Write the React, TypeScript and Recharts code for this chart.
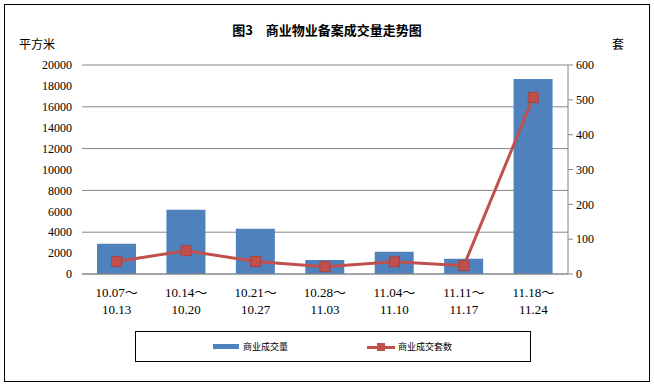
import { Bar, CartesianGrid, ComposedChart, Legend, Line, XAxis, YAxis } from "recharts"

const weekStart = ["10.07", "10.14", "10.21", "10.28", "11.04", "11.11", "11.18"]
const weekEnd = ["10.13", "10.20", "10.27", "11.03", "11.10", "11.17", "11.24"]
const areaSold = [2900, 6150, 4330, 1340, 2130, 1460, 18660]
const unitsSold = [36, 67, 36, 21, 35, 24, 507]
const leftTicks = [0, 2000, 4000, 6000, 8000, 10000, 12000, 14000, 16000, 18000, 20000]
const rightTicks = [0, 100, 200, 300, 400, 500, 600]

const data = weekStart.map((start, i) => ({
  week: `${start}～${weekEnd[i]}`,
  area: areaSold[i],
  units: unitsSold[i],
}))

const BLUE = "#4F81BD"
const RED = "#C0504D"
const GRID = "#868686"
const FONT = "'Liberation Serif', 'Noto Sans CJK SC', serif"
const CJK = "'Noto Sans CJK SC', sans-serif"

function WeekTick({ x, y, payload }: any) {
  const [a, b] = String(payload.value).split("～")
  return (
    <text x={x} y={y} textAnchor="middle" fontSize={13} fontFamily={FONT} fill="#000">
      <tspan x={x} dy={15}>{a}～</tspan>
      <tspan x={x} dy={17}>{b}</tspan>
    </text>
  )
}

function SquareDot({ cx, cy }: any) {
  return <rect x={cx - 5} y={cy - 5} width={10} height={10} fill={RED} stroke="#A9423F" strokeWidth={1} />
}

function LegendBox() {
  return (
    <div
      style={{
        width: 396,
        height: 31,
        border: "1px solid #000",
        boxSizing: "border-box",
        display: "flex",
        alignItems: "center",
        fontFamily: CJK,
        fontSize: 9,
        color: "#000",
      }}
    >
      <span style={{ marginLeft: 77, width: 26, height: 5, background: BLUE, display: "inline-block" }} />
      <span style={{ marginLeft: 4 }}>商业成交量</span>
      <span style={{ marginLeft: 79, position: "relative", width: 28, height: 12, display: "inline-block" }}>
        <span style={{ position: "absolute", left: 0, top: 5, width: 28, height: 3, background: RED }} />
        <span style={{ position: "absolute", left: 10, top: 2, width: 8, height: 8, background: RED }} />
      </span>
      <span style={{ marginLeft: 3 }}>商业成交套数</span>
    </div>
  )
}

export default function App() {
  return (
    <div style={{ position: "fixed", left: 0, top: 0, width: 654, height: 386, background: "#fff" }}>
      <div
        style={{
          position: "absolute",
          left: 4,
          top: 4,
          width: 646,
          height: 378,
          border: "1px solid #000",
          boxSizing: "border-box",
        }}
      />
      <div
        style={{
          position: "absolute",
          left: 0,
          width: 654,
          top: 20,
          textAlign: "center",
          fontFamily: CJK,
          fontWeight: "bold",
          fontSize: 13,
        }}
      >
        图3　商业物业备案成交量走势图
      </div>
      <div style={{ position: "absolute", left: 19, top: 35, fontFamily: CJK, fontSize: 12 }}>平方米</div>
      <div style={{ position: "absolute", left: 612, top: 35, fontFamily: CJK, fontSize: 12 }}>套</div>
      <div style={{ position: "absolute", left: 0, top: 0 }}>
        <ComposedChart width={654} height={386} data={data} margin={{ top: 65, right: 0, bottom: 72, left: 0 }}>
          <CartesianGrid yAxisId="left" vertical={false} stroke={GRID} strokeWidth={1} />
          <XAxis
            dataKey="week"
            height={40}
            axisLine={{ stroke: GRID }}
            tickLine={false}
            tick={<WeekTick />}
            interval={0}
          />
          <YAxis
            yAxisId="left"
            width={82}
            domain={[0, 20000]}
            ticks={leftTicks}
            axisLine={false}
            tickLine={false}
            tickSize={0}
            tickMargin={10}
            tick={{ fontSize: 12, fontFamily: FONT, fill: "#000" }}
          />
          <YAxis
            yAxisId="right"
            orientation="right"
            width={86}
            domain={[0, 600]}
            ticks={rightTicks}
            axisLine={{ stroke: GRID }}
            tickLine={{ stroke: GRID }}
            tickSize={5}
            tickMargin={3}
            tick={{ fontSize: 12, fontFamily: FONT, fill: "#000" }}
          />
          <Bar yAxisId="left" dataKey="area" name="商业成交量" fill={BLUE} barSize={39} isAnimationActive={false} />
          <Line
            yAxisId="right"
            dataKey="units"
            name="商业成交套数"
            stroke={RED}
            strokeWidth={3}
            dot={<SquareDot />}
            activeDot={false}
            isAnimationActive={false}
          />
          <Legend
            layout="vertical"
            align="center"
            verticalAlign="middle"
            content={<LegendBox />}
            wrapperStyle={{ position: "absolute", left: 135, top: 331, width: 396, height: 31 }}
          />
        </ComposedChart>
      </div>
    </div>
  )
}
